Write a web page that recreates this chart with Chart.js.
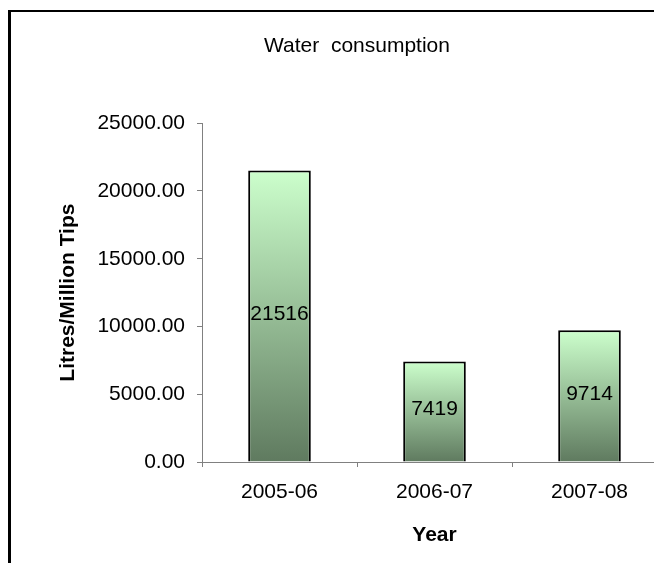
<!DOCTYPE html>
<html>
<head>
<meta charset="utf-8">
<title>Water consumption</title>
<script src="https://cdn.jsdelivr.net/npm/chart.js@4"></script>
<style>
    html, body { margin: 0; padding: 0; overflow: hidden; background: #fff; }
    #frame {
        position: absolute; left: 8px; top: 10px;
        width: 1000px; height: 1000px;
        border-left: 3px solid #000; border-top: 2px solid #000;
    }
    #myChart { position: absolute; left: 0; top: 0; }
</style>
</head>
<body>
<div id="frame"></div>
<canvas id="myChart" width="714" height="563"></canvas>
<script>
const years = ['2005-06', '2006-07', '2007-08'];
const litresPerMillion = [21516, 7419, 9714];
const yTicks = [0, 5000, 10000, 15000, 20000, 25000];

const FONT = "'Liberation Sans', Arial, sans-serif";
const TOP_GREEN = '#CCFFCC';
const BOTTOM_GREEN = '#5F7A5F';

Chart.defaults.color = '#000';
Chart.defaults.font.family = FONT;
Chart.defaults.font.size = 21;

// each bar gets its own vertical gradient, light at the top, dark at the base
function barGradient(ctx) {
    const chart = ctx.chart;
    const y = chart.scales.y;
    if (!chart.chartArea || ctx.type !== 'data' || !y) return TOP_GREEN;
    const top = y.getPixelForValue(ctx.parsed.y);
    const base = y.getPixelForValue(0);
    const g = chart.ctx.createLinearGradient(0, top, 0, base);
    g.addColorStop(0, TOP_GREEN);
    g.addColorStop(1, BOTTOM_GREEN);
    return g;
}

// value written in the middle of each bar
const valueLabels = {
    id: 'valueLabels',
    afterDatasetsDraw(chart) {
        const ctx = chart.ctx;
        const meta = chart.getDatasetMeta(0);
        ctx.save();
        ctx.font = '21px ' + FONT;
        ctx.fillStyle = '#000';
        ctx.textAlign = 'center';
        ctx.textBaseline = 'middle';
        meta.data.forEach((bar, i) => {
            const v = chart.data.datasets[0].data[i];
            ctx.fillText(String(v), bar.x, (bar.y + bar.base) / 2 - 2);
        });
        ctx.restore();
    }
};

const myChartRef = document.getElementById('myChart').getContext('2d');
new Chart(myChartRef, {
    type: 'bar',
    data: {
        labels: years,
        datasets: [{
            data: litresPerMillion,
            backgroundColor: barGradient,
            borderColor: '#000',
            borderWidth: 2,
            categoryPercentage: 1,
            barPercentage: 0.404,
        }]
    },
    options: {
        responsive: false,
        animation: false,
        events: [],
        layout: {
            padding: { left: 47, right: 47, top: 0, bottom: 0 }
        },
        plugins: {
            legend: { display: false },
            tooltip: { enabled: false },
            title: {
                display: true,
                text: 'Water  consumption',
                font: { size: 21, weight: 'normal' },
                padding: { top: 34, bottom: 64 }
            }
        },
        scales: {
            x: {
                grid: {
                    display: true,
                    drawOnChartArea: false,
                    drawTicks: true,
                    tickLength: 5,
                    color: '#808080'
                },
                border: { display: true, color: '#808080', width: 1 },
                ticks: { padding: 13, font: { size: 21 } },
                title: {
                    display: true,
                    text: 'Year',
                    font: { size: 21, weight: 'bold' },
                    padding: { top: 0, bottom: 15 }
                },
                afterFit(scale) { scale.height = 101; }
            },
            y: {
                min: yTicks[0],
                max: yTicks[yTicks.length - 1],
                afterBuildTicks(scale) {
                    scale.ticks = yTicks.map(v => ({ value: v }));
                },
                grid: {
                    display: true,
                    drawOnChartArea: false,
                    drawTicks: true,
                    tickLength: 5,
                    color: '#808080'
                },
                border: { display: true, color: '#808080', width: 1 },
                ticks: {
                    padding: 12,
                    font: { size: 21 },
                    callback: (v) => Number(v).toFixed(2)
                },
                title: {
                    display: true,
                    text: 'Litres/Million Tips',
                    font: { size: 21, weight: 'bold' },
                    padding: { top: 9, bottom: 0 }
                },
                afterFit(scale) { scale.width = 155; }
            }
        }
    },
    plugins: [valueLabels]
});
</script>
</body>
</html>
